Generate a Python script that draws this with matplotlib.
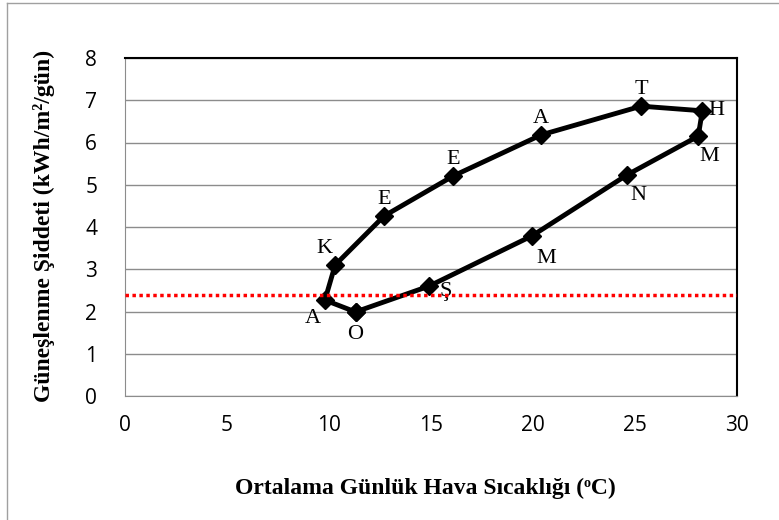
import matplotlib.pyplot as plt
from matplotlib.lines import Line2D

# Monthly mean air temperature (C) and solar radiation (kWh/m2/day), Ocak..Aralik, closed back to Ocak
months = ["O", "Ş", "M", "N", "M", "H", "T", "A", "E", "E", "K", "A"]
temp = [11.3, 14.9, 19.95, 24.6, 28.1, 28.3, 25.3, 20.4, 16.1, 12.7, 10.3, 9.8]
radiation = [1.99, 2.60, 3.79, 5.23, 6.15, 6.75, 6.86, 6.18, 5.21, 4.26, 3.10, 2.27]
threshold = 2.4

# label offsets in points, per month
offsets = [(0, -16), (12, -4), (10, -16), (8, -15), (8, -15), (10, 0),
           (0, 12), (0, 12), (0, 12), (0, 12), (-8, 12), (-9, -13)]

plt.rcParams['font.family'] = ['Liberation Serif', 'DejaVu Serif']

fig = plt.figure(figsize=(7.79, 5.2), dpi=100)
ax = fig.add_axes([125 / 779, 1 - 396 / 520, 612 / 779, 338 / 520])

xs = temp + temp[:1]
ys = radiation + radiation[:1]
ax.plot(xs, ys, color="black", lw=3.5, marker="D", markersize=9, zorder=3)
ax.axhline(threshold, color="#ff0000", lw=2.5, ls=(0, (1, 1)), zorder=4)

for m, x, y, off in zip(months, temp, radiation, offsets):
    ax.annotate(m, (x, y), xytext=off, textcoords="offset points",
                ha="center", va="center", fontsize=16)

ax.set_xlim(0, 30)
ax.set_ylim(0, 8)
ax.set_xticks(range(0, 31, 5))
ax.set_yticks(range(0, 9))
ax.grid(axis="y", color="#8c8c8c", lw=1)
ax.set_axisbelow(True)
ax.tick_params(length=0, labelsize=15, pad=14)
for lab in ax.get_xticklabels() + ax.get_yticklabels():
    lab.set_fontfamily(['Open Sans', 'DejaVu Sans'])
ax.tick_params(axis="y", pad=20)

ax.spines["top"].set_color("black")
ax.spines["right"].set_color("black")
ax.spines["top"].set_linewidth(1.5)
ax.spines["right"].set_linewidth(1.5)
ax.spines["left"].set_color("#8c8c8c")
ax.spines["bottom"].set_color("#8c8c8c")

fig.text(425 / 779, 1 - 488 / 520, "Ortalama Günlük Hava Sıcaklığı (ᵒC)",
         ha="center", va="center", fontsize=17, fontweight="bold")
fig.text(44 / 779, 1 - 226 / 520, "Güneşlenme Şiddeti (kWh/m²/gün)",
         ha="center", va="center", rotation=90, fontsize=17, fontweight="bold")

# outer chart border (top and left edges)
fig.add_artist(Line2D([7 / 779, 7 / 779], [0, 1 - 3 / 520], color="#a0a0a0", lw=1))
fig.add_artist(Line2D([7 / 779, 1], [1 - 3 / 520, 1 - 3 / 520], color="#a0a0a0", lw=1))

fig.savefig("out.png", dpi=100)
